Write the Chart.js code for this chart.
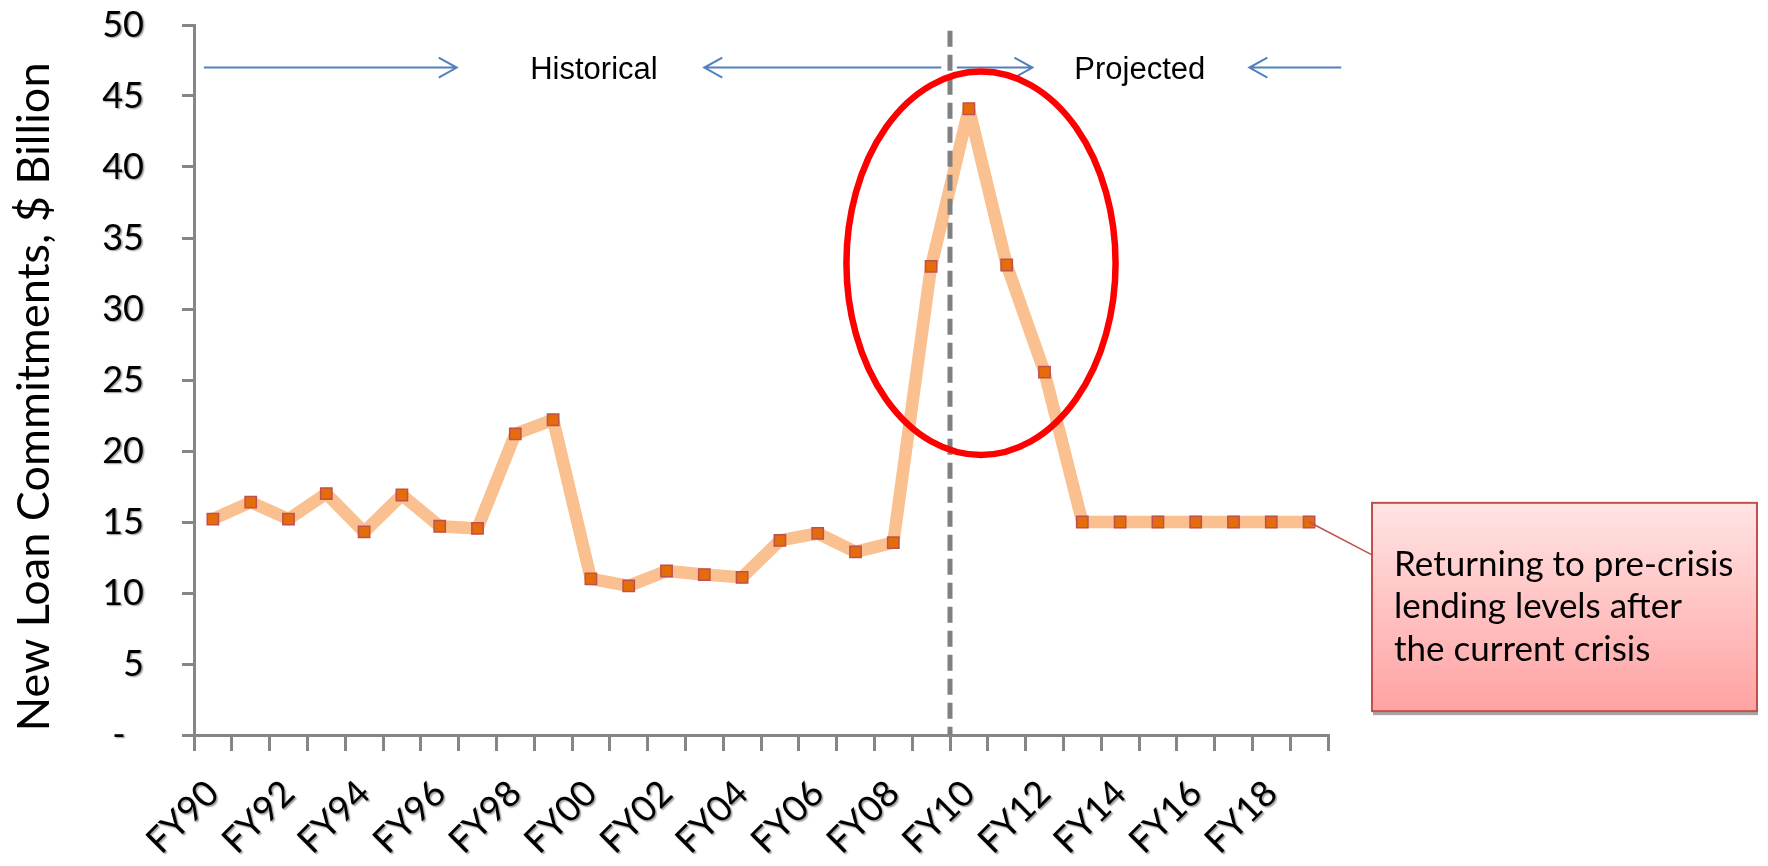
<!DOCTYPE html>
<html>
<head>
<meta charset="utf-8">
<title>New Loan Commitments</title>
<script src="https://cdn.jsdelivr.net/npm/chart.js@4/dist/chart.umd.min.js"></script>
<style>
  html, body { margin: 0; padding: 0; background: #ffffff; }
  #wrap { width: 1768px; height: 866px; position: relative; }
  canvas { display: block; }
</style>
</head>
<body>
<div id="wrap"><canvas id="chart" width="1768" height="866"></canvas></div>
<script>
// Fiscal years on the category axis
const fiscalYears = [
  'FY90', 'FY91', 'FY92', 'FY93', 'FY94', 'FY95', 'FY96', 'FY97', 'FY98', 'FY99',
  'FY00', 'FY01', 'FY02', 'FY03', 'FY04', 'FY05', 'FY06', 'FY07', 'FY08', 'FY09',
  'FY10', 'FY11', 'FY12', 'FY13', 'FY14', 'FY15', 'FY16', 'FY17', 'FY18', 'FY19'
];

// New loan commitments, $ billion (history through FY09, projection afterwards)
const commitments = [
  15.2, 16.4, 15.2, 17.0, 14.3, 16.9, 14.7, 14.55, 21.2, 22.2,
  11.0, 10.5, 11.55, 11.3, 11.1, 13.7, 14.2, 12.9, 13.55, 33.0,
  44.1, 33.1, 25.55, 15.0, 15.0, 15.0, 15.0, 15.0, 15.0, 15.0
];

// Value axis ticks
const valueTicks = [0, 5, 10, 15, 20, 25, 30, 35, 40, 45, 50];

const phaseLabels = ['Historical', 'Projected'];
const calloutLines = ['Returning to pre-crisis', 'lending levels after', 'the current crisis'];

const AXIS_GREY = '#868686';
const ARROW_BLUE = '#4F81BD';

function drawArrow(ctx, x0, x1, yy) {
  // line from x0 to the tip at x1, with an open chevron head at x1
  const dir = Math.sign(x1 - x0);
  ctx.beginPath();
  ctx.moveTo(x0, yy);
  ctx.lineTo(x1, yy);
  ctx.moveTo(x1 - dir * 18, yy - 10);
  ctx.lineTo(x1, yy);
  ctx.lineTo(x1 - dir * 18, yy + 10);
  ctx.stroke();
}

// Annotations: period divider, period arrows, highlight ellipse and callout
const overlay = {
  id: 'overlay',
  afterDatasetsDraw(chart) {
    const { ctx, chartArea } = chart;
    const x = chart.scales.x;
    const y = chart.scales.y;
    ctx.save();

    // divider between the last actual year and the first projected year
    const divX = x.getPixelForValue(19.5);
    ctx.strokeStyle = '#808080';
    ctx.lineWidth = 5;
    ctx.setLineDash([16, 8]);
    ctx.beginPath();
    ctx.moveTo(divX, y.getPixelForValue(49.6));
    ctx.lineTo(divX, y.getPixelForValue(0));
    ctx.stroke();
    ctx.setLineDash([]);

    // period arrows
    const arrowY = y.getPixelForValue(47);
    ctx.strokeStyle = ARROW_BLUE;
    ctx.lineWidth = 2;
    drawArrow(ctx, x.getPixelForValue(-0.24), x.getPixelForValue(6.45), arrowY);
    drawArrow(ctx, x.getPixelForValue(19.27), x.getPixelForValue(13.0), arrowY);
    drawArrow(ctx, x.getPixelForValue(19.68), x.getPixelForValue(21.68), arrowY);
    drawArrow(ctx, x.getPixelForValue(29.85), x.getPixelForValue(27.42), arrowY);

    // period labels
    ctx.fillStyle = '#000000';
    ctx.font = "31px 'Liberation Sans', Arial, sans-serif";
    ctx.textAlign = 'center';
    ctx.textBaseline = 'alphabetic';
    ctx.fillText(phaseLabels[0], x.getPixelForValue(10.08), arrowY + 11);
    ctx.fillText(phaseLabels[1], x.getPixelForValue(24.52), arrowY + 11);

    // highlight around the crisis peak
    const cx = x.getPixelForValue(20.32);
    const cy = y.getPixelForValue(33.22);
    const rx = x.getPixelForValue(20.32 + 3.56) - cx;
    const ry = cy - y.getPixelForValue(33.22 + 13.5);
    ctx.strokeStyle = '#FF0000';
    ctx.lineWidth = 6.5;
    ctx.beginPath();
    ctx.ellipse(cx, cy, rx, ry, 0, 0, Math.PI * 2);
    ctx.stroke();

    // callout box
    const meta = chart.getDatasetMeta(0);
    const last = meta.data[meta.data.length - 1];
    const boxL = chartArea.right + 44;
    const boxR = chart.width - 11;
    const boxT = y.getPixelForValue(16.35);
    const boxB = y.getPixelForValue(1.68);

    // leader line from the last projected point
    ctx.strokeStyle = '#C0504D';
    ctx.lineWidth = 1.5;
    ctx.beginPath();
    ctx.moveTo(last.x, last.y);
    ctx.lineTo(boxL, y.getPixelForValue(12.68));
    ctx.stroke();

    // soft shadow strip under the box
    ctx.fillStyle = '#A6A6A6';
    ctx.fillRect(boxL + 1, boxB, boxR - boxL, 4);

    const grad = ctx.createLinearGradient(0, boxT, 0, boxB);
    grad.addColorStop(0, '#FFE4E4');
    grad.addColorStop(1, '#FFA2A2');
    ctx.fillStyle = grad;
    ctx.fillRect(boxL, boxT, boxR - boxL, boxB - boxT);
    ctx.strokeStyle = '#C0504D';
    ctx.lineWidth = 2;
    ctx.strokeRect(boxL, boxT, boxR - boxL, boxB - boxT);

    ctx.fillStyle = '#000000';
    ctx.font = "35px Lato, 'Noto Sans', sans-serif";
    ctx.textAlign = 'left';
    ctx.textBaseline = 'alphabetic';
    const baselines = [73, 115, 158];
    calloutLines.forEach((t, i) => ctx.fillText(t, boxL + 22, boxT + baselines[i]));

    ctx.restore();

    // tick labels are drawn after this hook; give them a light drop shadow
    ctx.save();
    ctx.shadowColor = 'rgba(0,0,0,0.4)';
    ctx.shadowOffsetX = 1.5;
    ctx.shadowOffsetY = 1.5;
    ctx.shadowBlur = 1.5;
  },
  afterDraw(chart) {
    chart.ctx.restore();
  }
};

new Chart(document.getElementById('chart'), {
  type: 'line',
  data: {
    labels: fiscalYears,
    datasets: [{
      label: 'New Loan Commitments',
      data: commitments,
      borderColor: '#FAC08F',
      borderWidth: 12.5,
      borderJoinStyle: 'round',
      tension: 0,
      pointStyle: 'rect',
      pointRadius: 8,
      pointBackgroundColor: '#E46C0A',
      pointBorderColor: '#C0504D',
      pointBorderWidth: 1.5
    }]
  },
  options: {
    responsive: false,
    animation: false,
    events: [],
    layout: { padding: { top: 25, right: 440, left: 0, bottom: 0 } },
    plugins: {
      legend: { display: false },
      tooltip: { enabled: false }
    },
    scales: {
      x: {
        type: 'category',
        offset: true,
        grid: {
          offset: true,
          drawOnChartArea: false,
          drawTicks: true,
          tickLength: 16,
          color: AXIS_GREY,
          lineWidth: 3
        },
        border: { display: true, color: AXIS_GREY, width: 3 },
        ticks: {
          autoSkip: false,
          maxRotation: 45,
          minRotation: 45,
          padding: 21,
          color: '#000000',
          z: 1,
          font: { family: "Lato, 'Noto Sans', sans-serif", size: 36 },
          callback: (v, i) => (i % 2 === 0 ? fiscalYears[i] : '')
        },
        afterFit: (s) => { s.height = 131; s.paddingLeft = 0; s.paddingRight = 0; }
      },
      y: {
        min: valueTicks[0],
        max: valueTicks[valueTicks.length - 1],
        afterBuildTicks: (s) => { s.ticks = valueTicks.map(v => ({ value: v })); },
        grid: {
          drawOnChartArea: false,
          drawTicks: true,
          tickLength: 12,
          color: AXIS_GREY,
          lineWidth: 3
        },
        border: { display: true, color: AXIS_GREY, width: 3 },
        ticks: {
          padding: 38,
          color: '#000000',
          z: 1,
          font: { family: "Lato, 'Noto Sans', sans-serif", size: 36 },
          callback: (v) => (v === 0 ? '-  ' : String(v))
        },
        title: {
          display: true,
          // trailing em space nudges the rotated title slightly downward
          text: 'New Loan Commitments, $ Billion\u2003',
          color: '#000000',
          font: { family: "Lato, 'Noto Sans', sans-serif", size: 45 },
          padding: { top: 7, bottom: 0 }
        },
        afterFit: (s) => { s.width = 194; s.paddingTop = 0; s.paddingBottom = 0; }
      }
    }
  },
  plugins: [overlay]
});
</script>
</body>
</html>
